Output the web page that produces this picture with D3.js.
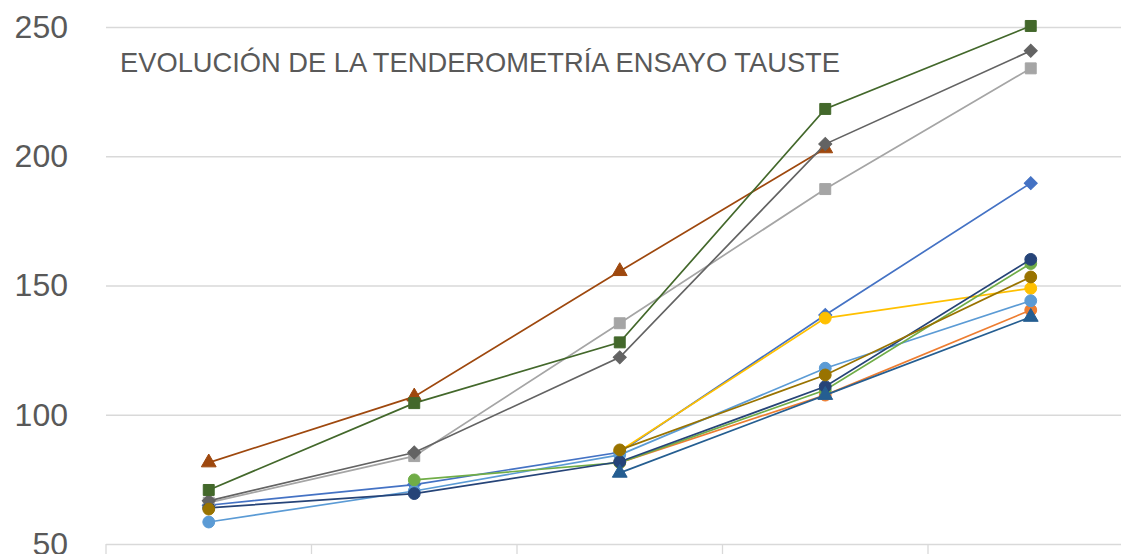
<!DOCTYPE html>
<html>
<head>
<meta charset="utf-8">
<script src="https://cdn.jsdelivr.net/npm/d3@7"></script>
<style>
  body { margin: 0; background: #fff; }
  #wrapper { width: 1121px; height: 554px; overflow: hidden; }
</style>
</head>
<body>
<div id="wrapper"></div>
<script>
// 1. Data
var categories = ['1', '2', '3', '4', '5'];
var yTicks = [50, 100, 150, 200, 250];
var titleText = 'EVOLUCIÓN DE LA TENDEROMETRÍA ENSAYO TAUSTE';

var blueDiamond   = [65, 73, 85.5, 138.6, 189.6];
var orangeCircle  = [null, null, 81.5, 107.6, 140.5];
var lightGreySq   = [66, 84, 135.4, 187.3, 234];
var yellowCircle  = [null, null, 86, 137.4, 148.9];
var lightBlueCirc = [58.5, 70.5, 84.5, 118, 144.1];
var greenCircle   = [null, 74.8, 81.5, 109.6, 158.5];
var navyCircle    = [64, 69.5, 81.8, 110.9, 160.1];
var brownTriangle = [81.5, 107, 155.5, 203, null];
var greyDiamond   = [66.7, 85.4, 122.2, 204.7, 240.8];
var oliveCircle   = [63.5, null, 86.4, 115.4, 153.3];
var blueTriangle  = [null, null, 77.5, 107.6, 137.8];
var greenSquare   = [70.9, 104.5, 128, 218.3, 250.4];

var series = [
  { values: blueDiamond,   color: '#4472C4', marker: 'diamond' },
  { values: orangeCircle,  color: '#ED7D31', marker: 'circle' },
  { values: lightGreySq,   color: '#A5A5A5', marker: 'square' },
  { values: yellowCircle,  color: '#FFC000', marker: 'circle' },
  { values: lightBlueCirc, color: '#5B9BD5', marker: 'circle' },
  { values: greenCircle,   color: '#70AD47', marker: 'circle' },
  { values: navyCircle,    color: '#264478', marker: 'circle' },
  { values: brownTriangle, color: '#9E480E', marker: 'triangle' },
  { values: greyDiamond,   color: '#636363', marker: 'diamond' },
  { values: oliveCircle,   color: '#997300', marker: 'circle' },
  { values: blueTriangle,  color: '#255E91', marker: 'triangle' },
  { values: greenSquare,   color: '#43682B', marker: 'square' }
];

// 2. Dimensions
var dimensions = {
  width: 1121,
  height: 554,
  margin: { top: 27, left: 106, bottom: 10 }
};
dimensions.plotBottom = dimensions.height - dimensions.margin.bottom;
var bandWidth = 205.5;

var wrapper = d3.select('#wrapper')
  .append('svg')
  .attr('width', dimensions.width)
  .attr('height', dimensions.height)
  .style('font-family', "'Liberation Sans', Arial, sans-serif");

// 3. Scales
var xScale = d3.scaleBand()
  .domain(categories)
  .range([dimensions.margin.left, dimensions.margin.left + bandWidth * categories.length])
  .padding(0);

var yScale = d3.scaleLinear()
  .domain([50, 250])
  .range([dimensions.plotBottom, dimensions.margin.top]);

var xCenter = function (i) { return xScale(categories[i]) + xScale.bandwidth() / 2; };

// 4. Gridlines and axes
var yAxisGenerator = d3.axisLeft(yScale)
  .tickValues(yTicks)
  .tickSize(-(xScale.range()[1] - dimensions.margin.left))
  .tickPadding(38);

var yAxis = wrapper.append('g')
  .attr('transform', 'translate(' + dimensions.margin.left + ',0)')
  .call(yAxisGenerator);
yAxis.select('.domain').remove();
yAxis.selectAll('line').attr('stroke', '#D9D9D9').attr('stroke-width', 1.3);
yAxis.selectAll('text')
  .attr('fill', '#595959')
  .style('font-size', '32px');

// category tick marks below the bottom line
var xAxisGenerator = d3.axisBottom(xScale)
  .tickSize(14)
  .tickFormat('');
var xAxis = wrapper.append('g')
  .attr('transform', 'translate(0,' + yScale(50) + ')')
  .call(xAxisGenerator);
xAxis.select('.domain').remove();
xAxis.selectAll('.tick').attr('transform', function (d) { return 'translate(' + xScale(d) + ',0)'; });
xAxis.selectAll('line').attr('stroke', '#D9D9D9').attr('stroke-width', 1.3);
// last boundary
xAxis.append('line')
  .attr('x1', xScale.range()[1]).attr('x2', xScale.range()[1])
  .attr('y1', 0).attr('y2', 14)
  .attr('stroke', '#D9D9D9');

// 5. Title
wrapper.append('text')
  .attr('x', 120)
  .attr('y', 72)
  .attr('fill', '#595959')
  .attr('textLength', 720)
  .attr('lengthAdjust', 'spacingAndGlyphs')
  .style('font-size', '28px')
  .text(titleText);

// 6. Lines and markers
var lineGenerator = d3.line()
  .defined(function (d) { return d != null; })
  .x(function (d, i) { return xCenter(i); })
  .y(function (d) { return yScale(d); });

var symbolTypes = {
  circle: d3.symbolCircle,
  square: d3.symbolSquare,
  triangle: d3.symbolTriangle,
  diamond: d3.symbolSquare
};
var symbolSizes = { circle: 110, square: 120, triangle: 95, diamond: 85 };

var seriesGroups = wrapper.selectAll('g.series')
  .data(series)
  .enter()
  .append('g')
  .attr('class', 'series');

seriesGroups.append('path')
  .attr('d', function (s) { return lineGenerator(s.values); })
  .attr('fill', 'none')
  .attr('stroke', function (s) { return s.color; })
  .attr('stroke-width', 1.7);

seriesGroups.each(function (s) {
  var pts = s.values.map(function (v, i) { return { v: v, i: i }; })
    .filter(function (p) { return p.v != null; });
  d3.select(this).selectAll('path.marker')
    .data(pts)
    .enter()
    .append('path')
    .attr('class', 'marker')
    .attr('d', d3.symbol().type(symbolTypes[s.marker]).size(symbolSizes[s.marker]))
    .attr('transform', function (p) {
      var t = 'translate(' + xCenter(p.i) + ',' + yScale(p.v) + ')';
      return s.marker === 'diamond' ? t + ' rotate(45)' : t;
    })
    .attr('fill', s.color)
    .attr('stroke', s.color)
    .attr('stroke-width', 1);
});
</script>
</body>
</html>
